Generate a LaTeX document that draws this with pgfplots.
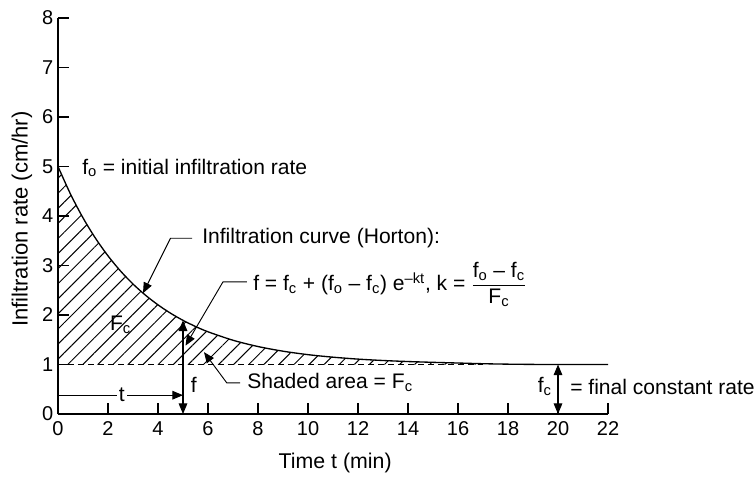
\documentclass[border=0pt]{standalone}
\usepackage{fontspec}
\setmainfont{Liberation Sans}
\usepackage{pgfplots}
\pgfplotsset{compat=1.18}
\usepgfplotslibrary{fillbetween}
\usetikzlibrary{patterns.meta,arrows.meta}
\newcommand{\ann}{\fontsize{15.8}{18}\selectfont}
\begin{document}
\begin{tikzpicture}[>={Triangle[length=8pt,width=6.5pt]}]
\begin{axis}[
  x=18.75pt, y=37.125pt,
  xmin=0, xmax=22, ymin=0, ymax=8,
  axis lines=left,
  axis line style={-, line width=1pt},
  tick align=inside, major tick length=8.5pt,
  tick style={line width=1pt, black},
  xtick={0,2,...,22}, ytick={0,1,...,8},
  clip=false,
  /pgf/number format/assume math mode=true,
  tick label style={font=\fontsize{15}{17}\selectfont},
  xticklabel style={yshift=-2pt},
  xlabel={Time t (min)}, ylabel={Infiltration rate (cm/hr)},
  xlabel style={at={(axis description cs:0.504,-0.124)}, anchor=center, font=\fontsize{16}{18}\selectfont},
  ylabel style={at={(axis description cs:-0.0655,0.492)}, anchor=center, font=\fontsize{16.5}{18}\selectfont},
]
\addplot[name path=curve, line width=1pt, smooth] coordinates {
(0,5.000) (0.5,4.443) (1,3.963) (1.5,3.550) (2,3.195) (2.5,2.889) (3,2.626)
(3.5,2.400) (4,2.205) (4.5,2.037) (5,1.892) (5.5,1.768) (6,1.661) (7,1.490)
(8,1.363) (9,1.269) (10,1.199) (11,1.148) (12,1.109) (13,1.081) (14,1.060)
(15,1.044) (16,1.030) (17,1.016) (18,1.007) (19,1.002) (20,1.000) (22,1.000)};
\addplot[name path=base, draw=none] coordinates {(0,1) (22,1)};
\addplot[draw=none, pattern={Lines[angle=45,distance=8pt,line width=0.75pt]}]
  fill between[of=curve and base, soft clip={domain=0:17}];
\addplot[line width=0.8pt, dash pattern=on 4.5pt off 3pt] coordinates {(0,1) (17,1)};

% annotations
\node[anchor=west, inner sep=0pt, font=\ann] at (axis cs:0.96,4.97) {f\textsubscript{o} = initial infiltration rate};
\draw[->, line width=0.7pt] (axis cs:5.36,3.55) -- (axis cs:4.5,3.55) -- (axis cs:3.4,2.44);
\node[anchor=west, inner sep=0pt, font=\ann] at (axis cs:5.76,3.55) {Infiltration curve (Horton):};
\draw[->, line width=0.7pt] (axis cs:7.55,2.67) -- (axis cs:6.6,2.67) -- (axis cs:5.1,1.38);
\node[anchor=base west, inner sep=0pt, font=\ann] at (axis cs:7.8,2.5)
  {f = f\textsubscript{c} + (f\textsubscript{o} – f\textsubscript{c}) e\textsuperscript{–kt}, k = $\displaystyle\frac{\hbox{\ann f\textsubscript{o} – f\textsubscript{c}}}{\hbox{\ann F\textsubscript{c}}}$};
\draw[->, line width=0.7pt] (axis cs:7.28,0.63) -- (axis cs:6.75,0.63) -- (axis cs:5.84,1.25);
\node[anchor=west, inner sep=0pt, font=\ann] at (axis cs:7.56,0.63) {Shaded area = F\textsubscript{c}};
\node[font=\ann, inner sep=0pt] at (axis cs:2.5,1.8) {F\textsubscript{c}};
\draw[<->, line width=0.8pt] (axis cs:5,0) -- (axis cs:5,1.892);
\node[anchor=west, font=\ann, inner sep=0pt] at (axis cs:5.3,0.59) {f};
\draw[->, line width=0.8pt] (axis cs:0,0.38) -- (axis cs:5,0.38);
\node[fill=white, inner sep=1.5pt, font=\ann] at (axis cs:2.55,0.38) {t};
\draw[<->, line width=0.8pt] (axis cs:20,0) -- (axis cs:20,1);
\node[anchor=east, font=\ann, inner sep=0pt] at (axis cs:19.76,0.55) {f\textsubscript{c}};
\node[anchor=west, font=\ann, inner sep=0pt] at (axis cs:20.48,0.55) {= final constant rate};
\path (axis cs:-2.32,-1.212) rectangle (axis cs:27.92,8.364);
\end{axis}
\end{tikzpicture}
\end{document}
